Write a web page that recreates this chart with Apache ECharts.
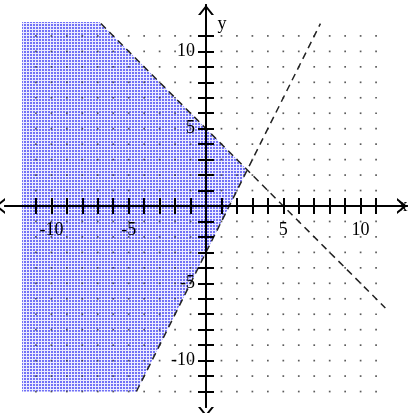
<!DOCTYPE html>
<html>
<head>
<meta charset="utf-8">
<script src="https://cdn.jsdelivr.net/npm/echarts@6/dist/echarts.min.js"></script>
<style>
  html, body { margin: 0; padding: 0; background: #fff; }
  #chart { width: 409px; height: 413px; }
</style>
</head>
<body>
<div id="chart"></div>
<script>
// graph of the system y < -x + 5, y > 2x - 3 (both dashed), solution shaded

var xTicks = [-11, -10, -9, -8, -7, -6, -5, -4, -3, -2, -1, 1, 2, 3, 4, 5, 6, 7, 8, 9, 10, 11];
var yTicks = [-12, -11, -10, -9, -8, -7, -6, -5, -4, -3, -2, -1, 1, 2, 3, 4, 5, 6, 7, 8, 9, 10, 11];
var xLabels = [-10, -5, 5, 10];
var yLabels = [-10, -5, 5, 10];

// dot lattice columns / rows
var dotXs = [-11, -10, -9, -8, -7, -6, -5, -4, -3, -2, -1, 0, 1, 2, 3, 4, 5, 6, 7, 8, 9, 10, 11];
var dotYs = [-12, -11, -10, -9, -8, -7, -6, -5, -4, -3, -2, -1, 0, 1, 2, 3, 4, 5, 6, 7, 8, 9, 10, 11];

// boundary lines (end points as drawn)
var line1X = [-6.8, 11.6];
var line1Y = [11.8, -6.6];
var line2X = [-4.5, 7.4];
var line2Y = [-12, 11.8];

// shaded region vertices
var regionX = [-11.9, -6.9, 2.67, -4.5, -11.9];
var regionY = [11.9, 11.9, 2.33, -12, -12];

var FONT = "'Liberation Serif', 'DejaVu Serif', serif";
var HALF = 201; // half of the plot square, puts the axes through the origin

function zip(xs, ys) { return xs.map(function (x, i) { return [x, ys[i]]; }); }

function dots() {
  var out = [];
  dotYs.forEach(function (y) { dotXs.forEach(function (x) { out.push([x, y]); }); });
  return out;
}

function stipple() {
  var c = document.createElement("canvas");
  c.width = 3; c.height = 3;
  var g = c.getContext("2d");
  g.fillStyle = "#ececff"; g.fillRect(0, 0, 3, 3);
  g.fillStyle = "#7272f6"; g.fillRect(0, 0, 2, 2);
  return c;
}

var arrow = "path://M0,10 L8,0 L16,10 L13.5,10 L8,3.1 L2.5,10 Z";

function xAx(main) {
  return {
    type: "value", min: -13, max: 13, position: "bottom", offset: -HALF, z: 10,
    axisLine: main ? { onZero: false, lineStyle: { color: "#000", width: 2 },
      symbol: [arrow, arrow], symbolSize: [16, 10], symbolOffset: [-5, -5] }
      : { onZero: false, lineStyle: { color: "#000", width: 2 } },
    axisTick: { show: true, customValues: xTicks, inside: !main, length: 8,
      lineStyle: { color: "#000", width: 2 } },
    axisLabel: main ? { customValues: xLabels, margin: 15, fontFamily: FONT, fontSize: 18, color: "#000" }
      : { show: false },
    splitLine: { show: false },
    name: main ? "x" : "", nameLocation: "end", nameGap: -4,
    nameTextStyle: { fontFamily: FONT, fontSize: 18, color: "#000", align: "center",
      verticalAlign: "middle", padding: [42, 0, 0, 0] }
  };
}

function yAx(main) {
  return {
    type: "value", min: -13, max: 13, position: "left", offset: -HALF, z: 10,
    axisLine: main ? { onZero: false, lineStyle: { color: "#000", width: 2 },
      symbol: [arrow, arrow], symbolSize: [16, 10], symbolOffset: [-5, -5] }
      : { onZero: false, lineStyle: { color: "#000", width: 2 } },
    axisTick: { show: true, customValues: yTicks, inside: !main, length: 8,
      lineStyle: { color: "#000", width: 2 } },
    axisLabel: main ? { customValues: yLabels, margin: 11, fontFamily: FONT, fontSize: 18, color: "#000",
      padding: [6, 0, 0, 0] } : { show: false },
    splitLine: { show: false },
    name: main ? "y" : "", nameLocation: "end", nameGap: -19,
    nameTextStyle: { fontFamily: FONT, fontSize: 18, color: "#000", align: "center",
      verticalAlign: "middle", padding: [0, 0, 0, 32] }
  };
}

var chart = echarts.init(document.getElementById("chart"), null, { renderer: "canvas" });
chart.setOption({
  animation: false,
  backgroundColor: "#fff",
  grid: { left: 5, top: 5, width: 402, height: 402, containLabel: false, outerBoundsMode: "none" },
  xAxis: [xAx(true), xAx(false)],
  yAxis: [yAx(true), yAx(false)],
  series: [
    {
      type: "custom", z: 1, silent: true, data: [0],
      renderItem: function (params, api) {
        var pts = zip(regionX, regionY).map(function (p) { return api.coord(p); });
        return { type: "polygon", shape: { points: pts },
          style: { fill: { image: stipple(), repeat: "repeat" }, stroke: null } };
      }
    },
    {
      type: "scatter", z: 2, silent: true, data: dots(),
      symbol: "rect", symbolSize: 1.7, itemStyle: { color: "#333" }
    },
    {
      type: "line", z: 3, silent: true, data: zip(line1X, line1Y), showSymbol: false,
      lineStyle: { color: "#222", width: 1.5, type: [7, 5] }
    },
    {
      type: "line", z: 3, silent: true, data: zip(line2X, line2Y), showSymbol: false,
      lineStyle: { color: "#222", width: 1.5, type: [7, 5] }
    }
  ]
});
</script>
</body>
</html>
